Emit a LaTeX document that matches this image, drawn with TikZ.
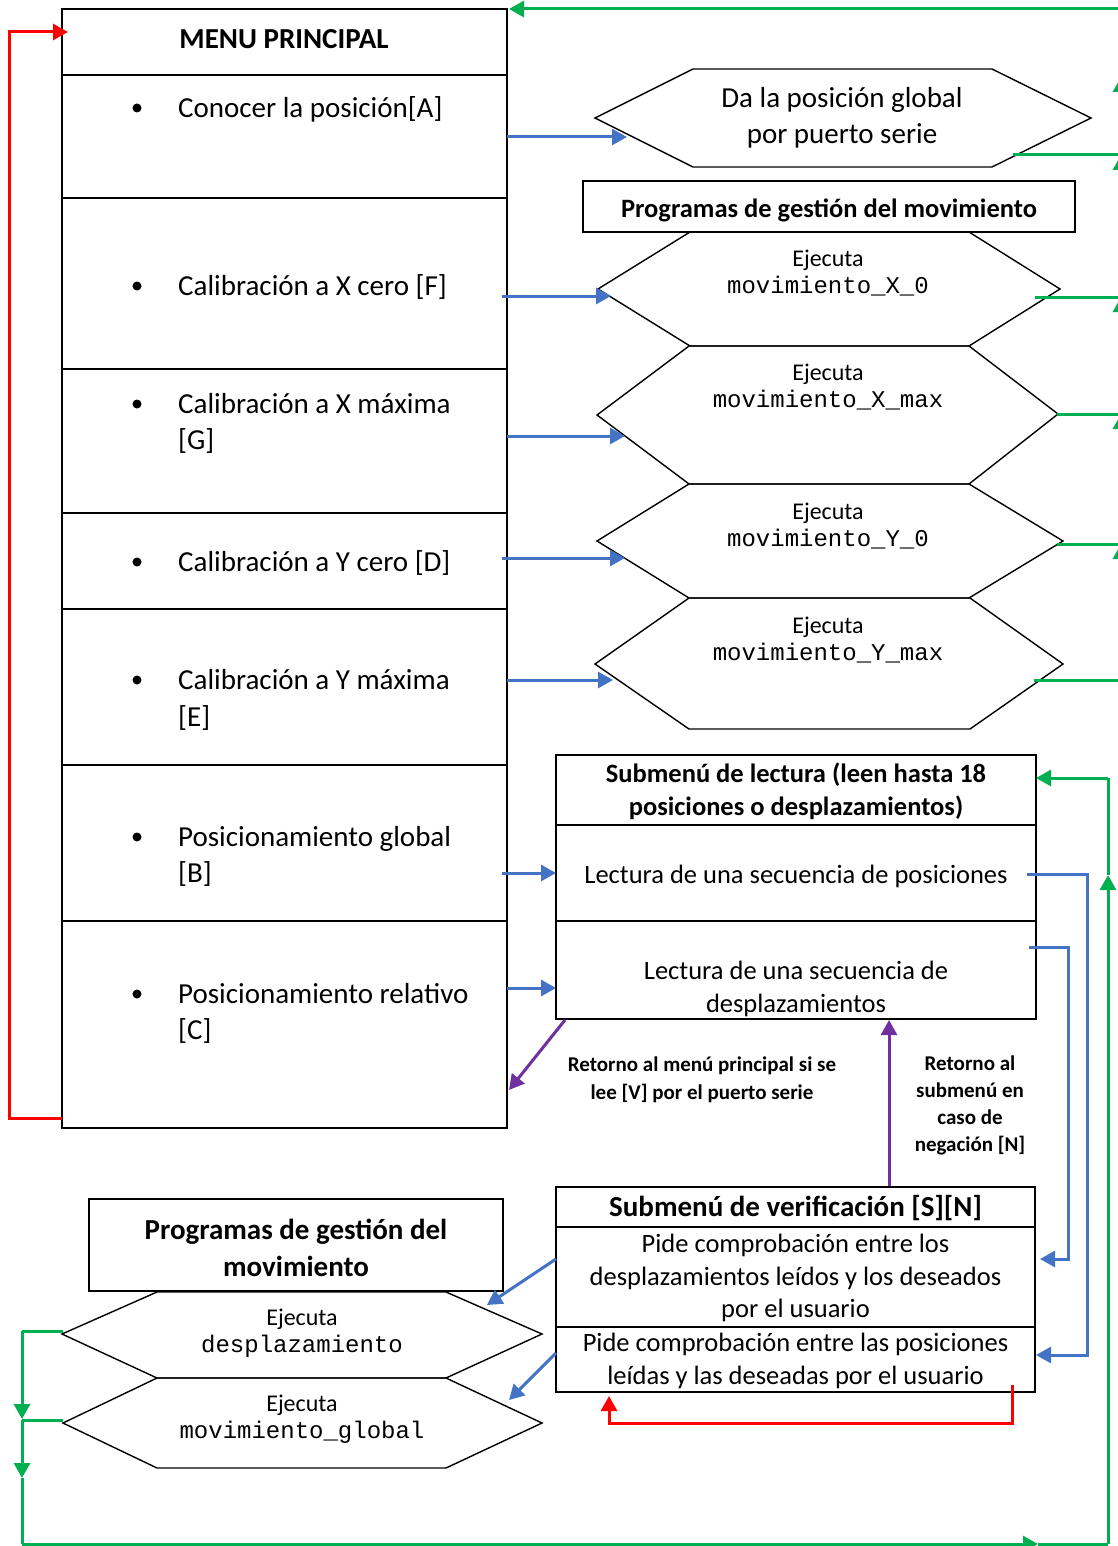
\documentclass[tikz,border=0pt]{standalone}
\usepackage{fontspec}
\setmainfont{Carlito}
\newfontfamily\monof{Liberation Mono}
\usetikzlibrary{arrows.meta}
\definecolor{cblue}{HTML}{4472C4}
\definecolor{cgreen}{HTML}{00B050}
\definecolor{cred}{HTML}{FF0000}
\definecolor{cpurple}{HTML}{7030A0}
\newcommand\szA{\fontsize{29}{36.5}\selectfont}
\newcommand\szB{\fontsize{26.5}{32.5}\selectfont}
\newcommand\szC{\fontsize{24}{27}\selectfont}
\newcommand\szD{\fontsize{21}{27.5}\selectfont}
\begin{document}
\begin{tikzpicture}[x=1pt,y=-1pt,
  tip/.style={-{Triangle[length=15pt,width=16pt]}},
  bl/.style={cblue, line width=3pt},
  gr/.style={cgreen, line width=3pt},
  rd/.style={cred, line width=3pt},
  pu/.style={cpurple, line width=3pt},
  mrow/.style={draw, line width=1.3pt, minimum width=445pt, inner sep=0pt},
  hex/.style={draw, line width=1.4pt, line join=miter},
  sbox/.style={draw, line width=2.6pt, inner sep=0pt, minimum width=480pt},
  pbox/.style={draw, line width=1.5pt, inner sep=0pt},
  mtxt/.style={inner sep=0pt, font=\szA, align=left, anchor=west},
  ctxt/.style={inner sep=0pt, align=center}]
\useasboundingbox (0,0) rectangle (1118,1546);
\clip (0,0) rectangle (1118,1546);
\fill[white] (0,0) rectangle (1118,1546);

% ---------- main menu ----------
\node[mrow, minimum height=66pt]  (mt) at (284.5,42) {};
\node[mrow, minimum height=123pt] (r1) at (284.5,136.5) {};
\node[mrow, minimum height=171pt] (r2) at (284.5,283.5) {};
\node[mrow, minimum height=144pt] (r3) at (284.5,441) {};
\node[mrow, minimum height=96pt]  (r4) at (284.5,561) {};
\node[mrow, minimum height=156pt] (r5) at (284.5,687) {};
\node[mrow, minimum height=156pt] (r6) at (284.5,843) {};
\node[mrow, minimum height=207pt] (r7) at (284.5,1024.5) {};
\node[ctxt, font=\szA\bfseries] (mtt) at (284,39) {MENU PRINCIPAL};
\foreach \yy in {108,286,404,562,680,837,994} \fill (137,\yy) circle (4.5pt);
\node[mtxt] (t1) at (178,109) {Conocer la posición[A]};
\node[mtxt] (t2) at (178,287) {Calibración a X cero [F]};
\node[mtxt] (t3) at (178,423.5) {Calibración a X máxima\\{}[G]};
\node[mtxt] (t4) at (178,563) {Calibración a Y cero [D]};
\node[mtxt] (t5) at (178,700) {Calibración a Y máxima\\{}[E]};
\node[mtxt] (t6) at (178,856.5) {Posicionamiento global\\{}[B]};
\node[mtxt] (t7) at (178,1013.5) {Posicionamiento relativo\\{}[C]};

% ---------- hexagons right ----------
\draw[hex] (595,118) -- (693,69) -- (992,69) -- (1091,118) -- (992,167) -- (693,167) -- cycle;
\node[ctxt, font=\szA] (h1) at (842,118) {Da la posición global\\por puerto serie};

\node[pbox, minimum width=492pt, minimum height=51pt] (pg1) at (829,206.5) {};
\node[ctxt, font=\fontsize{26.5}{32}\selectfont\bfseries] (pg1t) at (829,210) {Programas de gestión del movimiento};

\draw[hex] (598,289) -- (690,232) -- (969,232) -- (1060,289) -- (969,346) -- (690,346) -- cycle;
\node[ctxt, font=\szC] (hx0) at (828,273) {Ejecuta\\{\monof movimiento\_X\_0}};
\draw[hex] (597,415) -- (689,346) -- (969,346) -- (1058,414) -- (969,484) -- (689,484) -- cycle;
\node[ctxt, font=\szC] (hxm) at (828,387) {Ejecuta\\{\monof movimiento\_X\_max}};
\draw[hex] (597,541) -- (689,484) -- (969,484) -- (1063,541) -- (969,598) -- (689,598) -- cycle;
\node[ctxt, font=\szC] (hy0) at (828,526) {Ejecuta\\{\monof movimiento\_Y\_0}};
\draw[hex] (595,664) -- (689,598) -- (970,598) -- (1063,664) -- (970,729) -- (689,729) -- cycle;
\node[ctxt, font=\szC] (hym) at (828,640) {Ejecuta\\{\monof movimiento\_Y\_max}};

% ---------- submenu lectura ----------
\node[sbox, minimum height=70pt] (la) at (796,790) {};
\node[sbox, minimum height=96pt] (lb) at (796,873) {};
\node[sbox, minimum height=98pt] (lc) at (796,970) {};
\node[ctxt, font=\szB\bfseries] (lat) at (796,791) {Submenú de lectura (leen hasta 18\\posiciones o desplazamientos)};
\node[ctxt, font=\szB] (lbt) at (796,876) {Lectura de una secuencia de posiciones};
\node[ctxt, font=\szB] (lct) at (796,989) {Lectura de una secuencia de\\desplazamientos};

% ---------- labels ----------
\node[ctxt, font=\szD\bfseries] (lab1) at (702,1080) {Retorno al menú principal si se\\lee [V] por el puerto serie};
\node[ctxt, font=\fontsize{21}{27}\selectfont\bfseries] (lab2) at (970,1105) {Retorno al\\submenú en\\caso de\\negación [N]};

% ---------- submenu verificacion ----------
\node[sbox, minimum width=479pt, minimum height=40pt]  (va) at (795.5,1207) {};
\node[sbox, minimum width=479pt, minimum height=100pt] (vb) at (795.5,1277) {};
\node[sbox, minimum width=479pt, minimum height=65pt]  (vc) at (795.5,1359.5) {};
\node[ctxt, font=\szA\bfseries] (vat) at (795.5,1208) {Submenú de verificación [S][N]};
\node[ctxt, font=\szB] (vbt) at (795.5,1278) {Pide comprobación entre los\\desplazamientos leídos y los deseados\\por el usuario};
\node[ctxt, font=\szB] (vct) at (795.5,1361) {Pide comprobación entre las posiciones\\leídas y las deseadas por el usuario};

% ---------- bottom left ----------
\node[pbox, minimum width=414pt, minimum height=92pt] (pg2) at (296,1245) {};
\node[ctxt, font=\fontsize{29}{37}\selectfont\bfseries] (pg2t) at (296,1248) {Programas de gestión del\\movimiento};
\draw[hex] (62,1334) -- (157,1292) -- (446,1292) -- (542,1334) -- (446,1378) -- (157,1378) -- cycle;
\node[ctxt, font=\szC] (hd) at (302,1333) {Ejecuta\\{\monof desplazamiento}};
\draw[hex] (63,1423) -- (157,1378) -- (446,1378) -- (542,1423) -- (446,1468) -- (157,1468) -- cycle;
\node[ctxt, font=\szC] (hg) at (302,1419) {Ejecuta\\{\monof movimiento\_global}};

% ---------- coordinates ----------
\coordinate (b1a) at (507,137);  \coordinate (b1b) at (627,137);
\coordinate (b2a) at (502,296);  \coordinate (b2b) at (611,296);
\coordinate (b3a) at (507,436);  \coordinate (b3b) at (625,436);
\coordinate (b4a) at (502,558);  \coordinate (b4b) at (625,558);
\coordinate (b5a) at (507,680);  \coordinate (b5b) at (613,680);
\coordinate (b6a) at (502,873);  \coordinate (b6b) at (556,873);
\coordinate (b7a) at (507,988);  \coordinate (b7b) at (556,988);
\coordinate (p1a) at (1027,874); \coordinate (p1b) at (1087,874); \coordinate (p1c) at (1087,1355); \coordinate (p1d) at (1036,1355);
\coordinate (d1a) at (1029,947); \coordinate (d1b) at (1068,947); \coordinate (d1c) at (1068,1259); \coordinate (d1d) at (1040,1259);
\coordinate (v1a) at (556,1259); \coordinate (v1b) at (487,1305);
\coordinate (v2a) at (556,1353); \coordinate (v2b) at (509,1400);
\coordinate (u1a) at (565,1020); \coordinate (u1b) at (509,1090);
\coordinate (u2a) at (889,1186); \coordinate (u2b) at (889,1020);
\coordinate (ra) at (62,1118); \coordinate (rb) at (9,1118); \coordinate (rc) at (9,32); \coordinate (rd) at (68,32);
\coordinate (sa) at (1012,1385); \coordinate (sb) at (1012,1423); \coordinate (sc) at (609,1423); \coordinate (sd) at (609,1396);
% green right column
\coordinate (g0a) at (1013,155); \coordinate (g0b) at (1121,155);
\coordinate (g1a) at (1035,297); \coordinate (g1b) at (1121,297);
\coordinate (g2a) at (1057,414); \coordinate (g2b) at (1121,414);
\coordinate (g3a) at (1057,544); \coordinate (g3b) at (1121,544);
\coordinate (g4a) at (1034,680); \coordinate (g4b) at (1121,680);
\coordinate (gm) at (1121,77); \coordinate (gt) at (1121,9); \coordinate (gend) at (509,9);
% green left/bottom
\coordinate (l1a) at (63,1331); \coordinate (l1b) at (22,1331); \coordinate (l1c) at (22,1419);
\coordinate (l2a) at (63,1420); \coordinate (l2b) at (22,1420); \coordinate (l2c) at (22,1478);
\coordinate (l3) at (22,1544); \coordinate (l4) at (1038,1544); \coordinate (l5) at (1108,1544);
\coordinate (l6) at (1108,875); \coordinate (l7) at (1108,778); \coordinate (l8) at (1036,778);

% ---------- blue connectors ----------
\draw[bl,tip] (b1a) -- (b1b);
\draw[bl,tip] (b2a) -- (b2b);
\draw[bl,tip] (b3a) -- (b3b);
\draw[bl,tip] (b4a) -- (b4b);
\draw[bl,tip] (b5a) -- (b5b);
\draw[bl,tip] (b6a) -- (b6b);
\draw[bl,tip] (b7a) -- (b7b);
\draw[bl,tip] (p1a) -- (p1b) -- (p1c) -- (p1d);
\draw[bl,tip] (d1a) -- (d1b) -- (d1c) -- (d1d);
\draw[bl,tip] (v1a) -- (v1b);
\draw[bl,tip] (v2a) -- (v2b);

% ---------- purple ----------
\draw[pu,tip] (u1a) -- (u1b);
\draw[pu,tip] (u2a) -- (u2b);

% ---------- red ----------
\draw[rd,tip] (ra) -- (rb) -- (rc) -- (rd);
\draw[rd,tip] (sa) -- (sb) -- (sc) -- (sd);

% ---------- green ----------
\draw[gr] (g0a) -- (g0b);
\draw[gr] (g1a) -- (g1b);
\draw[gr] (g2a) -- (g2b);
\draw[gr] (g3a) -- (g3b);
\draw[gr] (g4a) -- (g4b);
\draw[gr,tip] (g4b) -- (g3b);
\draw[gr,tip] (g3b) -- (g2b);
\draw[gr,tip] (g2b) -- (g1b);
\draw[gr,tip] (g1b) -- (g0b);
\draw[gr,tip] (g0b) -- (gm);
\draw[gr] (gm) -- (gt);
\draw[gr,tip] (gt) -- (gend);
\draw[gr] (l1a) -- (l1b);
\draw[gr,tip] (l1b) -- (l1c);
\draw[gr] (l2a) -- (l2b);
\draw[gr,tip] (l2b) -- (l2c);
\draw[gr] (l2c) -- (l3);
\draw[gr,tip] (l3) -- (l4);
\draw[gr] (l4) -- (l5);
\draw[gr,tip] (l5) -- (l6);
\draw[gr] (l6) -- (l7);
\draw[gr,tip] (l7) -- (l8);
\end{tikzpicture}
\end{document}
